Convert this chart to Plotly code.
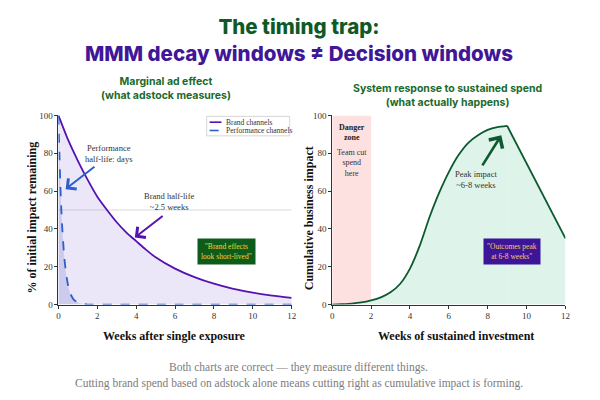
import plotly.graph_objects as go

# ---------------- data ----------------
weeks_brand = [0, 0.5, 1, 1.5, 2, 2.5, 3, 3.5, 4, 4.5, 5, 6, 7, 8, 9, 10, 11, 12]
brand_pct = [100, 87, 76, 66, 57, 50, 43.5, 38, 33.5, 29, 25, 19, 14.5, 11, 8.3, 6.3, 4.7, 3.5]

weeks_perf = [0, 0.05, 0.1, 0.15, 0.2, 0.3, 0.4, 0.5, 0.6, 0.7, 0.8, 1.0, 1.2, 1.5, 3, 6, 9, 12]
perf_pct = [100, 80, 63, 50, 40, 25, 16, 10, 6, 4, 2.5, 1, 0.4, 0, 0, 0, 0, 0]

weeks_rise = [0, 0.5, 1, 1.5, 2, 2.5, 3, 3.5, 4, 4.5, 5, 5.5, 6, 6.5, 7, 7.5, 8, 8.5, 9]
impact_rise = [0, 0.2, 0.5, 1.1, 2.2, 3.8, 6.5, 11, 19, 31, 46, 59, 70, 79, 85.5, 89.5, 92.3, 93.8, 94.5]
weeks_fall = [9, 12]
impact_fall = [94.5, 35]

x_ticks = [0, 2, 4, 6, 8, 10, 12]
y_ticks = [0, 20, 40, 60, 80, 100]
danger_zone = [0, 2]
half_life_level = 50
legend_labels = ["Brand channels", "Performance channels"]

# ---------------- styling ----------------
W, H = 600, 400
OFF = 8  # page margin of the html body
SERIF = "Liberation Serif"
SANS = "Inter"
PURPLE = "#5512b0"
BLUE = "#2c5fcc"
DKGREEN = "#0d5a30"
TITLE_GREEN = "#0e5a27"
TITLE_PURPLE = "#3f1797"


def px(x):
    return (x - OFF) / W


def py(y):
    return 1 - (y - OFF) / H


fig = go.Figure()

# Left panel: fills
fig.add_trace(go.Scatter(x=weeks_brand, y=brand_pct, mode="lines", showlegend=False,
                         line=dict(width=0, shape="spline", smoothing=0.6),
                         fill="tozeroy", fillcolor="rgba(150,120,215,0.18)",
                         xaxis="x", yaxis="y", hoverinfo="skip"))
fig.add_trace(go.Scatter(x=weeks_perf, y=perf_pct, mode="lines", showlegend=False,
                         line=dict(width=0, shape="spline", smoothing=0.6),
                         fill="tozeroy", fillcolor="rgba(60,70,190,0.18)",
                         xaxis="x", yaxis="y", hoverinfo="skip"))
# Left panel: lines
fig.add_trace(go.Scatter(x=weeks_brand, y=brand_pct, mode="lines", name=legend_labels[0],
                         line=dict(color=PURPLE, width=1.8, shape="spline", smoothing=0.6),
                         xaxis="x", yaxis="y"))
fig.add_trace(go.Scatter(x=weeks_perf, y=perf_pct, mode="lines", name=legend_labels[1],
                         line=dict(color=BLUE, width=1.8, dash="dash", shape="spline", smoothing=0.6),
                         xaxis="x", yaxis="y"))

# Right panel
fig.add_trace(go.Scatter(x=weeks_rise, y=impact_rise, mode="lines", showlegend=False,
                         line=dict(color=DKGREEN, width=1.8, shape="spline", smoothing=0.6),
                         fill="tozeroy", fillcolor="#def3ea", xaxis="x2", yaxis="y2"))
fig.add_trace(go.Scatter(x=weeks_fall, y=impact_fall, mode="lines", showlegend=False,
                         line=dict(color=DKGREEN, width=1.8),
                         fill="tozeroy", fillcolor="#def3ea", xaxis="x2", yaxis="y2"))

# shapes
fig.add_shape(type="line", xref="x", yref="y", x0=0, x1=12, y0=half_life_level, y1=half_life_level,
              line=dict(color="#cfcfcf", width=0.8), layer="below")
fig.add_shape(type="rect", xref="x2", yref="y2", x0=danger_zone[0], x1=danger_zone[1], y0=0, y1=100,
              fillcolor="#fde1e1", line=dict(width=0), layer="below")

# compact legend box (drawn in paper coordinates)
fig.add_shape(type="rect", xref="paper", yref="paper", x0=px(207), x1=px(291), y0=py(134), y1=py(114),
              fillcolor="white", line=dict(color="#cccccc", width=0.8))
fig.add_shape(type="line", xref="paper", yref="paper", x0=px(210), x1=px(222), y0=py(120), y1=py(120),
              line=dict(color=PURPLE, width=1.6))
fig.add_shape(type="line", xref="paper", yref="paper", x0=px(210), x1=px(222), y0=py(128.5), y1=py(128.5),
              line=dict(color=BLUE, width=1.6, dash="dash"))

axis_common = dict(range=[0, 12], tickvals=x_ticks, showgrid=False, zeroline=False,
                   showline=True, linecolor="#333", linewidth=1, ticks="outside", ticklen=3,
                   tickcolor="#333", tickfont=dict(family=SERIF, size=9, color="#333"), fixedrange=True)
yaxis_common = dict(range=[0, 100], tickvals=y_ticks, showgrid=False, zeroline=False,
                    showline=True, linecolor="#333", linewidth=1, ticks="outside", ticklen=3,
                    tickcolor="#333", tickfont=dict(family=SERIF, size=9, color="#333"), fixedrange=True)

fig.update_layout(
    width=W, height=H, autosize=False,
    margin=dict(l=0, r=0, t=0, b=0),
    paper_bgcolor="white", plot_bgcolor="white",
    xaxis=dict(domain=[px(57), px(293)], anchor="y", **axis_common),
    yaxis=dict(domain=[py(307), py(113)], anchor="x", **yaxis_common),
    xaxis2=dict(domain=[px(334), px(570)], anchor="y2", **axis_common),
    yaxis2=dict(domain=[py(307), py(113)], anchor="x2", **yaxis_common),
    showlegend=False,
)

ann = []


def text(x, y, t, size, color, family=SERIF, weight="normal", xref="paper", yref="paper",
         xanchor="center", **kw):
    ann.append(dict(x=x, y=y, xref=xref, yref=yref, text=t, showarrow=False,
                    xanchor=xanchor, yanchor="middle",
                    font=dict(family=family, size=size, color=color, weight=weight), **kw))


# Titles (one two-line block, each line in its own colour)
title_html = (f"<span style='color:{TITLE_GREEN}'>The timing trap:</span><br>"
              f"<span style='color:{TITLE_PURPLE}'>MMM decay windows ≠ Decision windows</span>")
text(0.5 - OFF / W, py(36), title_html, 20.5, TITLE_PURPLE, family=SANS, weight=800)
text(px(166), py(85), "Marginal ad effect<br>(what adstock measures)", 10.5, "#1a6a2c", family=SANS, weight=700)
text(px(451), py(93), "System response to sustained spend<br>(what actually happens)", 10.5, "#1a6a2c", family=SANS, weight=700)

# Legend labels
text(px(225), py(120), legend_labels[0], 7.5, "#333", xanchor="left")
text(px(225), py(128.5), legend_labels[1], 7.5, "#333", xanchor="left")

# Axis titles
text(px(30), py(218), "% of initial impact remaining", 12, "#111", weight="bold", textangle=-90)
text(px(310), py(218), "Cumulative business impact", 12, "#111", weight="bold", textangle=-90)
text(px(174), py(339), "Weeks after single exposure", 12, "#111", weight="bold")
text(px(459), py(339), "Weeks of sustained investment", 12, "#111", weight="bold")

# Footnote
text(0.5 - OFF / W, py(372), "Both charts are correct — they measure different things.", 11.5, "#7c7c7c")
text(0.5 - OFF / W, py(388), "Cutting brand spend based on adstock alone means cutting right as cumulative impact is forming.", 11.5, "#7c7c7c")

# Left panel annotations
text(2.56, 80, "Performance<br>half-life: days", 8.5, "#333", xref="x", yref="y")
text(5.71, 54.5, "Brand half-life<br>~2.5 weeks", 8.5, "#333", xref="x", yref="y")
text(8.67, 28, "\"Brand effects<br>look short-lived\"", 7.5, "#f2d53a", xref="x", yref="y",
     bgcolor="#0e5c1c", borderpad=3)
ann.append(dict(x=0.37, y=61, ax=1.93, ay=73.5, xref="x", yref="y", axref="x", ayref="y",
                text="", showarrow=True, arrowhead=4, arrowsize=1.3, arrowwidth=2, arrowcolor=BLUE))
ann.append(dict(x=3.93, y=35.4, ax=5.44, ay=47.4, xref="x", yref="y", axref="x", ayref="y",
                text="", showarrow=True, arrowhead=4, arrowsize=1.3, arrowwidth=2, arrowcolor=PURPLE))

# Right panel annotations
text(1, 91, "<b>Danger<br>zone</b>", 8, "#222", xref="x2", yref="y2")
text(1, 75, "Team cut<br>spend<br>here", 8, "#333", xref="x2", yref="y2")
text(7.42, 66, "Peak impact<br>~6-8 weeks", 8.5, "#333", xref="x2", yref="y2")
text(9.26, 28, "\"Outcomes peak<br>at 6-8 weeks\"", 7.5, "#f3c86a", xref="x2", yref="y2",
     bgcolor="#3d1599", borderpad=3)
ann.append(dict(x=8.7, y=89.5, ax=7.68, ay=72.8, xref="x2", yref="y2", axref="x2", ayref="y2",
                text="", showarrow=True, arrowhead=4, arrowsize=1.2, arrowwidth=2.6, arrowcolor=DKGREEN))

fig.update_layout(annotations=ann)
fig.write_html("out.html")
